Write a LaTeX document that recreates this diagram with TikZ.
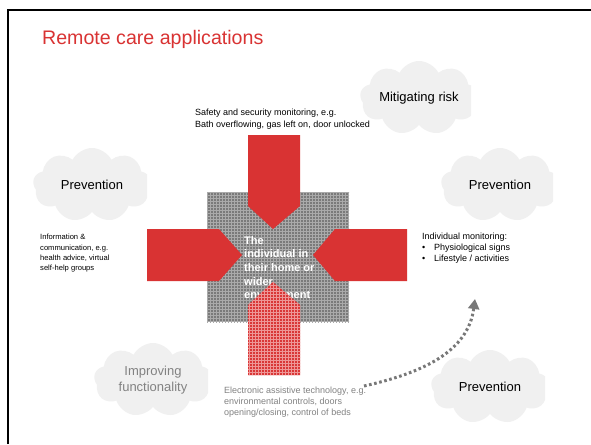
\documentclass[tikz,border=0pt]{standalone}
\usepackage{fontspec}
\setmainfont{Liberation Sans}
\usetikzlibrary{shapes.symbols,patterns,arrows.meta}
\definecolor{rcred}{RGB}{217,51,51}
\definecolor{cloudfill}{RGB}{240,240,240}
\definecolor{txtgray}{RGB}{130,130,130}
\definecolor{meshgray}{RGB}{122,122,122}
\definecolor{meshline}{RGB}{170,170,170}
\definecolor{dotgray}{RGB}{120,120,120}
\definecolor{bottomred}{RGB}{217,55,55}
\definecolor{bottomline}{RGB}{238,150,150}
\begin{document}
\begin{tikzpicture}[x=1pt,y=-1pt,
  cloudbox/.style={cloud, cloud puffs=9, cloud puff arc=125, cloud ignores aspect,
    fill=cloudfill, draw=none, inner sep=0pt, minimum width=118pt, minimum height=74pt,
    align=center, font=\fontsize{13}{15.5}\selectfont},
  smalltxt/.style={anchor=north west, inner sep=0pt, align=left, font=\fontsize{9}{11.3}\selectfont},
  redarrow/.style={fill=rcred, draw=none}]
\useasboundingbox (0,0) rectangle (591,444);
\fill[white] (0,0) rectangle (591,444);
\draw[line width=2.2pt] (8,444) -- (8,10) -- (591,10);

% title
\node[anchor=base west, inner sep=0pt, text=rcred, font=\fontsize{19.6}{23}\selectfont] (title) at (42,45) {Remote care applications};

% clouds
\begin{scope}
  \clip (300,50) rectangle (471,150);
  \node[cloudbox] (mit) at (419,98) {Mitigating risk};
\end{scope}
\begin{scope}
  \clip (20,140) rectangle (147,230);
  \node[cloudbox] (prevL) at (92,185) {Prevention};
\end{scope}
\begin{scope}
  \clip (420,135) rectangle (553,230);
  \node[cloudbox] (prevR) at (500,185) {Prevention};
\end{scope}
\begin{scope}
  \clip (420,340) rectangle (545,435);
  \node[cloudbox] (prevB) at (490,387) {Prevention};
\end{scope}
\begin{scope}
  \clip (90,330) rectangle (208,430);
  \node[cloudbox, text=txtgray] (impr) at (153,380) {Improving\\functionality};
\end{scope}

% side texts
\node[smalltxt] (safety) at (195,109) {Safety and security monitoring, e.g.\\Bath overflowing, gas left on, door unlocked};
\node[smalltxt, font=\fontsize{7.6}{10.4}\selectfont] (info) at (40,234) {Information \&\\communication, e.g.\\health advice, virtual\\self-help groups};
\node[smalltxt] (indiv) at (422,232.5) {Individual monitoring:\\
  \makebox[12pt][l]{\textbullet}Physiological signs\\
  \makebox[12pt][l]{\textbullet}Lifestyle / activities};
\node[smalltxt, text=txtgray] (elec) at (224,386.5) {Electronic assistive technology, e.g.\\environmental controls, doors\\opening/closing, control of beds};

% central square
\fill[meshgray] (207,192) rectangle (349,322);
\fill[pattern=grid, pattern color=meshline] (207,192) rectangle (349,322);
\node[anchor=north west, inner sep=0pt, align=left, text=white,
  font=\fontsize{11}{13.7}\selectfont\bfseries] (ind) at (244,236)
  {The\\individual in\\their home or\\wider\\environment};

% arrows
\fill[redarrow] (248,135) -- (300,135) -- (300,206) -- (273,229) -- (248,206) -- cycle;
\fill[redarrow] (147,229) -- (219,229) -- (242,255) -- (219,281) -- (147,281) -- cycle;
\fill[redarrow] (407,229) -- (335,229) -- (313,255) -- (335,281) -- (407,281) -- cycle;
\fill[bottomred] (248,375) -- (248,305) -- (273,282) -- (300,305) -- (300,375) -- cycle;
\fill[pattern=grid, pattern color=bottomline] (248,375) -- (248,305) -- (273,282) -- (300,305) -- (300,375) -- cycle;

% dotted arrow
\coordinate (dstart) at (364,386);
\coordinate (dend) at (475,299);
\draw[dotgray, line width=3pt, dash pattern=on 2.6pt off 2.6pt,
  -{Triangle[width=11pt,length=10pt]}]
  (dstart) .. controls (422,373) and (468,352) .. (dend);
\end{tikzpicture}
\end{document}
